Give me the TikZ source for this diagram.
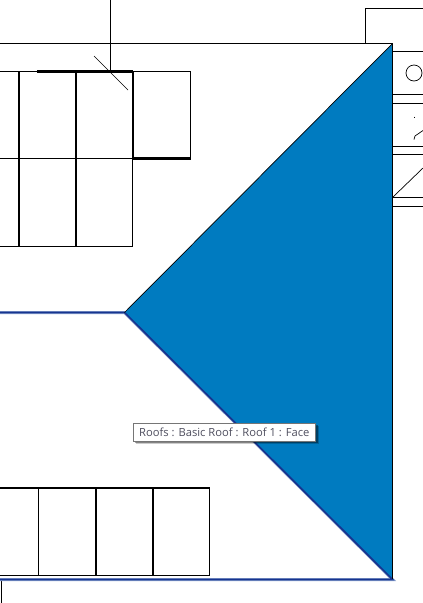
\documentclass[tikz,border=0pt]{standalone}
\usepackage{fontspec}
\setmainfont{Open Sans}
\definecolor{roofblue}{HTML}{007BC0}
\definecolor{edgeblue}{HTML}{17348F}
\definecolor{halo}{HTML}{8FA6D0}
\definecolor{tipgrey}{HTML}{767676}
\definecolor{tiptext}{HTML}{4F4F5F}
\tikzset{
  thinline/.style={black,line width=1pt},
  thickline/.style={black,line width=2.3pt},
  hairline/.style={black,line width=0.7pt},
  selhalo/.style={halo,line width=3pt},
  seledge/.style={edgeblue,line width=1.7pt},
  tipbox/.style={draw=tipgrey,fill=white,line width=1pt,minimum width=182.5pt,minimum height=18pt,inner sep=0pt},
  tipshadow/.style={fill=black,minimum width=182.5pt,minimum height=18pt,inner sep=0pt},
}
\begin{document}
\begin{tikzpicture}[x=1pt,y=-1pt]
\useasboundingbox (0,0) rectangle (423,603);
\fill[white] (0,0) rectangle (423,603);
% right-hand fragments
\draw[thinline] (365.5,43) -- (365.5,8.5) -- (423,8.5);
\foreach \yy in {51,94.5,103.5,146,154.5,197.5,206.5}
  \draw[thinline] (392,\yy) -- (423,\yy);
\draw[hairline] (414,73) circle (8);
\draw[hairline] (414.5,116.5) -- (414.5,118);
\draw[hairline] (414,139.5) -- (415,136) -- (423,130.5);
\draw[hairline] (393,197) -- (423,168);
% upper linework
\draw[thinline] (0,43.5) -- (392.5,43.5);
\draw[thinline] (110.5,0) -- (110.5,71);
\draw[hairline] (94,56) -- (128,90);
\draw[thinline] (0,71.5) -- (37,71.5);
\draw[thinline] (133,71.5) -- (190.5,71.5) -- (190.5,158.5);
\draw[thickline] (37,71.5) -- (133,71.5);
\draw[thinline] (0,158.5) -- (133,158.5);
\draw[thickline] (133,158.5) -- (190.5,158.5);
\draw[thinline] (0,246.5) -- (132.5,246.5) -- (132.5,158.5);
\draw[thickline] (19,71.5) -- (19,246.5);
\draw[thickline] (76,71.5) -- (76,246.5);
\draw[thickline] (133,71.5) -- (133,158.5);
% lower linework
\draw[thickline] (0,488) -- (209.5,488);
\draw[thinline] (0,575.5) -- (209.5,575.5) -- (209.5,488);
\draw[thinline] (38.5,488) -- (38.5,575.5);
\draw[thickline] (96,488) -- (96,575.5);
\draw[thickline] (153,488) -- (153,575.5);
\draw[thinline] (1,580) -- (1,603);
% selected roof face
\draw[selhalo] (0,312.5) -- (124.5,312.5) -- (392.5,579.5) -- (0,579.5);
\fill[roofblue] (392.5,43.5) -- (124.5,312.5) -- (392.5,579.5) -- cycle;
\draw[seledge] (0,312.5) -- (124.5,312.5) -- (392.5,579.5) -- (0,579.5);
\draw[hairline] (124.5,312.5) -- (392.5,43.5);
\draw[thinline] (392.5,43.5) -- (392.5,579);
% tooltip
\node[tipshadow,opacity=0.2] at (227.5,435.4) {};
\node[tipshadow,opacity=0.35] at (226.5,434.4) {};
\node[tipbox] (tip) at (224.5,432.4) {};
\node[text=tiptext,font=\fontsize{11.2pt}{13pt}\selectfont,inner sep=0pt,anchor=west] (tiptxt) at (139,432.4) {Roofs : Basic Roof : Roof 1 : Face};
\end{tikzpicture}
\end{document}
